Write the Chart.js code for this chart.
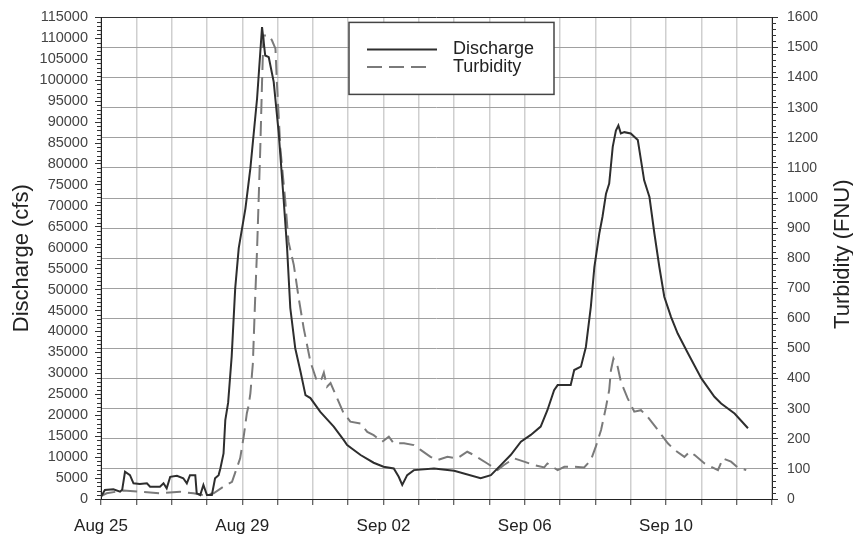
<!DOCTYPE html>
<html>
<head>
<meta charset="utf-8">
<script src="https://cdn.jsdelivr.net/npm/chart.js@4.4.1/dist/chart.umd.min.js"></script>
<style>
  html, body { margin: 0; padding: 0; background: #fff; }
</style>
</head>
<body>
<canvas id="flowChart" width="853" height="537"></canvas>
<script>
// days since Aug 25 (00:00)
const dischargeDays = [0, 0.11, 0.35, 0.54, 0.6, 0.68, 0.82, 0.92, 1.1, 1.3, 1.39, 1.67, 1.77, 1.86, 1.96, 2.15, 2.33, 2.43, 2.52, 2.67, 2.71, 2.81, 2.9, 3.0, 3.14, 3.23, 3.33, 3.38, 3.47, 3.52, 3.6, 3.7, 3.8, 3.9, 4.09, 4.23, 4.42, 4.56, 4.65, 4.75, 4.89, 5.03, 5.17, 5.27, 5.36, 5.5, 5.65, 5.79, 5.93, 6.21, 6.59, 6.87, 6.97, 7.35, 7.72, 8.0, 8.29, 8.43, 8.53, 8.67, 8.86, 9.43, 10.0, 10.75, 11.04, 11.32, 11.6, 11.89, 12.17, 12.45, 12.64, 12.83, 12.93, 13.3, 13.4, 13.59, 13.73, 13.87, 13.97, 14.11, 14.2, 14.3, 14.39, 14.49, 14.58, 14.65, 14.72, 14.82, 15.0, 15.2, 15.29, 15.38, 15.53, 15.67, 15.81, 15.95, 16.14, 16.33, 16.62, 17.0, 17.37, 17.56, 17.94, 18.32];
const dischargeCfs = [550, 2150, 2300, 1750, 2200, 6500, 5700, 3750, 3600, 3750, 2950, 2950, 3750, 2550, 5300, 5550, 4950, 3750, 5700, 5700, 1350, 950, 3350, 950, 950, 4950, 5700, 7300, 10900, 18850, 23000, 34000, 50300, 59900, 69400, 79000, 95700, 112700, 105900, 105500, 99600, 87600, 71700, 59800, 45600, 36000, 30400, 24800, 24100, 20800, 17300, 14100, 12900, 10500, 8660, 7700, 7300, 5300, 3350, 5700, 6900, 7300, 6750, 4950, 5700, 8100, 10500, 13700, 15300, 17300, 21200, 26000, 27200, 27200, 30800, 31600, 36300, 45900, 55400, 63400, 67400, 72900, 75300, 84100, 88000, 89200, 87300, 87600, 87300, 85700, 80900, 76100, 72100, 63400, 55400, 48300, 43500, 39500, 34800, 28800, 24400, 22800, 20400, 16900];

const turbidityDays = [0, 0.16, 0.63, 1.1, 1.67, 2.24, 2.62, 2.9, 3.19, 3.47, 3.71, 3.94, 4.04, 4.13, 4.18, 4.23, 4.3, 4.36, 4.42, 4.51, 4.56, 4.6, 4.75, 4.84, 4.94, 4.98, 5.08, 5.22, 5.31, 5.46, 5.6, 5.74, 5.93, 6.12, 6.25, 6.31, 6.4, 6.5, 6.69, 6.87, 6.92, 7.06, 7.35, 7.54, 7.72, 7.96, 8.15, 8.29, 8.58, 8.86, 9.05, 9.33, 9.52, 9.81, 10.09, 10.37, 10.56, 10.94, 11.23, 11.41, 11.7, 11.98, 12.26, 12.55, 12.64, 12.93, 13.12, 13.4, 13.68, 13.87, 14.01, 14.16, 14.3, 14.39, 14.44, 14.51, 14.63, 14.72, 14.91, 15.1, 15.29, 15.48, 15.77, 16.05, 16.24, 16.52, 16.67, 16.81, 17.09, 17.47, 17.61, 17.84, 18.03, 18.27];
const turbidityFnu = [10, 19, 28, 24, 19, 24, 19, 13, 19, 41, 57, 135, 207, 285, 310, 351, 450, 650, 832, 1164, 1385, 1540, 1540, 1524, 1496, 1385, 1164, 987, 854, 777, 666, 567, 456, 389, 400, 420, 373, 385, 334, 285, 279, 257, 251, 223, 212, 190, 207, 185, 185, 179, 163, 140, 129, 140, 135, 157, 146, 118, 96, 113, 135, 124, 113, 105, 118, 96, 107, 107, 105, 129, 174, 229, 306, 362, 428, 467, 439, 390, 335, 290, 295, 273, 229, 185, 163, 140, 157, 146, 118, 96, 135, 124, 105, 96];

const dateLabels = ['Aug 25', 'Aug 29', 'Sep 02', 'Sep 06', 'Sep 10'];
const labelEvery = 4;
const dayCount = 19;

const FONT = '"Liberation Sans", Arial, sans-serif';

const toPoints = (xs, ys) => xs.map((x, i) => ({ x, y: ys[i] }));

// small ticks between the labelled ones on both value axes
const minorTicks = {
    id: 'minorTicks',
    afterDraw(chart) {
        const { ctx } = chart;
        const yl = chart.scales.y;
        const yr = chart.scales.y1;
        ctx.save();
        ctx.strokeStyle = '#333';
        ctx.lineWidth = 1;
        ctx.beginPath();
        for (let v = 1000; v < yl.max; v += 1000) {
            if (v % 5000 === 0) continue;
            const p = Math.round(yl.getPixelForValue(v)) + 0.5;
            ctx.moveTo(yl.right - 4, p);
            ctx.lineTo(yl.right, p);
        }
        for (let v = 20; v < yr.max; v += 20) {
            if (v % 100 === 0) continue;
            const p = Math.round(yr.getPixelForValue(v)) + 0.5;
            ctx.moveTo(yr.left, p);
            ctx.lineTo(yr.left + 4, p);
        }
        ctx.stroke();
        ctx.restore();
    }
};

// right axis title reads bottom-to-top like the left one
const rightTitle = {
    id: 'rightTitle',
    afterDraw(chart) {
        const { ctx, chartArea } = chart;
        const yr = chart.scales.y1;
        ctx.save();
        ctx.translate(yr.right - 10, (chartArea.top + chartArea.bottom) / 2 - 4);
        ctx.rotate(-Math.PI / 2);
        ctx.fillStyle = '#222';
        ctx.font = '22px ' + FONT;
        ctx.textAlign = 'center';
        ctx.textBaseline = 'middle';
        ctx.fillText('Turbidity (FNU)', 0, 0);
        ctx.restore();
    }
};

// boxed legend in the upper middle of the plot
const boxLegend = {
    id: 'boxLegend',
    afterDraw(chart) {
        const { ctx, chartArea } = chart;
        const x0 = chartArea.left + 248;
        const y0 = chartArea.top + 5;
        const w = 205, h = 72;
        ctx.save();
        ctx.fillStyle = '#fff';
        ctx.fillRect(x0, y0, w, h);
        ctx.strokeStyle = '#444';
        ctx.lineWidth = 1.5;
        ctx.strokeRect(x0, y0, w, h);

        chart.data.datasets.forEach((ds, i) => {
            const ly = y0 + 27 + i * 17.5;
            ctx.strokeStyle = ds.borderColor;
            ctx.lineWidth = ds.borderWidth;
            ctx.setLineDash(ds.borderDash || []);
            ctx.beginPath();
            ctx.moveTo(x0 + 18, ly);
            ctx.lineTo(x0 + (ds.borderDash ? 84 : 88), ly);
            ctx.stroke();
            ctx.setLineDash([]);
            ctx.fillStyle = '#222';
            ctx.font = '18px ' + FONT;
            ctx.textBaseline = 'middle';
            ctx.fillText(ds.label, x0 + 104, ly);
        });
        ctx.restore();
    }
};

new Chart(document.getElementById('flowChart').getContext('2d'), {
    type: 'line',
    data: {
        datasets: [
            {
                label: 'Discharge',
                data: toPoints(dischargeDays, dischargeCfs),
                yAxisID: 'y',
                borderColor: '#2e2e2e',
                borderWidth: 2,
                pointRadius: 0,
                tension: 0,
            },
            {
                label: 'Turbidity',
                data: toPoints(turbidityDays, turbidityFnu),
                yAxisID: 'y1',
                borderColor: '#7a7a7a',
                borderWidth: 2,
                borderDash: [15, 7],
                pointRadius: 0,
                tension: 0,
            },
        ],
    },
    options: {
        responsive: false,
        animation: false,
        layout: { padding: { top: 17, left: 0, right: 0, bottom: 0 } },
        plugins: {
            legend: { display: false },
            tooltip: { enabled: false },
        },
        scales: {
            x: {
                type: 'linear',
                min: 0,
                max: dayCount,
                afterFit: s => { s.height = 38; },
                border: { display: true, color: '#222', width: 1 },
                grid: {
                    color: '#cfcfcf',
                    lineWidth: 1.5,
                    tickColor: '#333',
                    tickWidth: 1,
                    tickLength: 6,
                },
                ticks: {
                    stepSize: 1,
                    autoSkip: false,
                    maxRotation: 0,
                    padding: 11,
                    color: '#222',
                    font: { family: FONT, size: 17 },
                    callback: v => (v % labelEvery === 0 ? dateLabels[v / labelEvery] : ''),
                },
            },
            y: {
                position: 'left',
                min: 0,
                max: 115000,
                afterFit: s => { s.width = 101; },
                border: { display: true, color: '#222', width: 1 },
                grid: {
                    drawOnChartArea: false,
                    tickColor: '#333',
                    tickLength: 6,
                },
                ticks: {
                    stepSize: 5000,
                    padding: 7,
                    color: '#444',
                    font: { family: FONT, size: 14.5 },
                    callback: v => String(v),
                },
                title: {
                    display: true,
                    text: 'Discharge (cfs)',
                    color: '#222',
                    font: { family: FONT, size: 22, lineHeight: 1 },
                    padding: { top: 11, bottom: 0 },
                },
            },
            y1: {
                position: 'right',
                min: 0,
                max: 1600,
                afterFit: s => { s.width = 81; },
                border: { display: true, color: '#222', width: 1 },
                grid: {
                    color: ctx => (ctx.tick && ctx.tick.value === 1600 ? '#333' : '#a0a0a0'),
                    lineWidth: 1,
                    tickColor: '#333',
                    tickLength: 6,
                },
                ticks: {
                    stepSize: 100,
                    padding: 9,
                    color: '#444',
                    font: { family: FONT, size: 14 },
                    callback: v => String(v),
                },
                title: { display: false },
            },
        },
    },
    plugins: [minorTicks, rightTitle, boxLegend],
});
</script>
</body>
</html>
